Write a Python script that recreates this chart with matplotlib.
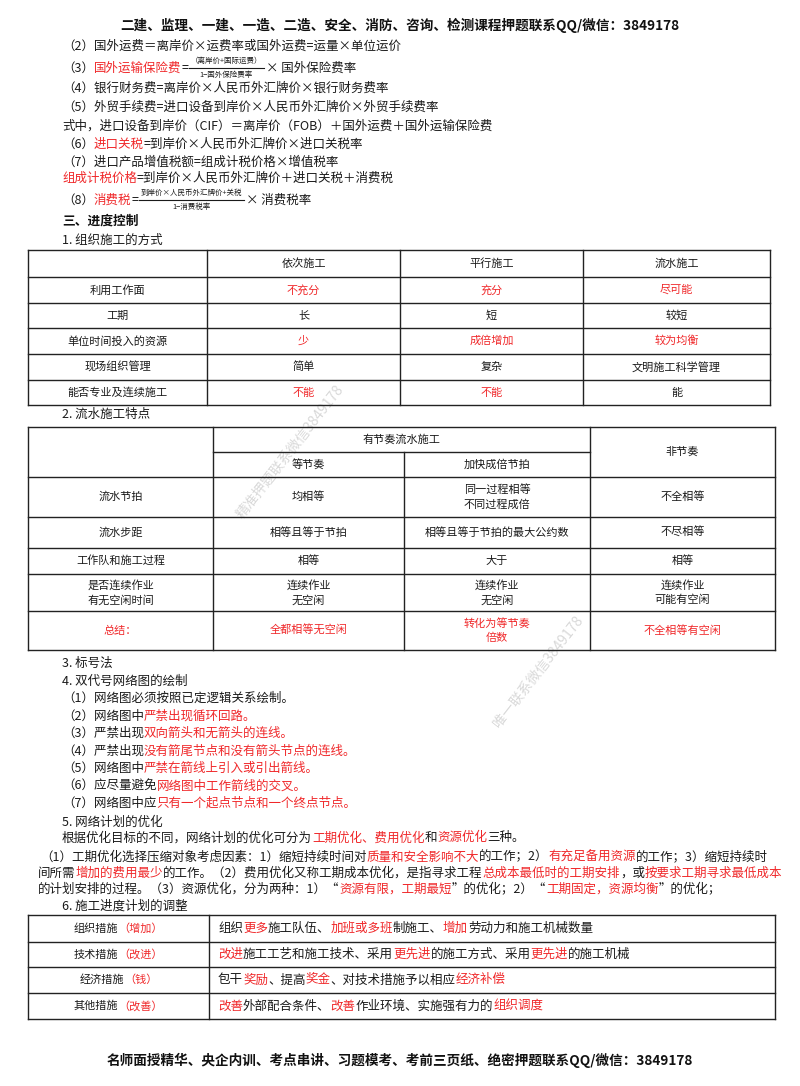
import matplotlib.pyplot as plt

plt.rcParams['font.family'] = ['Noto Sans CJK SC', 'DejaVu Sans']

RED = '#f0282a'
BLK = '#1a1a1a'

title_top = "二建、监理、一建、一造、二造、安全、消防、咨询、检测课程押题联系QQ/微信：3849178"
footer = "名师面授精华、央企内训、考点串讲、习题模考、考前三页纸、绝密押题联系QQ/微信：3849178"

# (x, y, [(text, red?)])
lines_top = [
    (62, 46, [("（2）国外运费＝离岸价×运费率或国外运费=运量×单位运价", 0)]),
    (62, 88, [("（4）银行财务费=离岸价×人民币外汇牌价×银行财务费率", 0)]),
    (62, 107, [("（5）外贸手续费=进口设备到岸价×人民币外汇牌价×外贸手续费率", 0)]),
    (62, 126, [("式中，进口设备到岸价（CIF）＝离岸价（FOB）＋国外运费＋国外运输保险费", 0)]),
    (62, 144, [("（6）", 0), ("进口关税", 1), ("=到岸价×人民币外汇牌价×进口关税率", 0)]),
    (62, 162, [("（7）进口产品增值税额=组成计税价格×增值税率", 0)]),
    (62, 178, [("组成计税价格", 1), ("=到岸价×人民币外汇牌价＋进口关税＋消费税", 0)]),
]
fractions = [
    (62, 68, "（3）", "国外运输保险费", "（离岸价+国际运费）", "1−国外保险费率", "× 国外保险费率"),
    (62, 200, "（8）", "消费税", "到岸价×人民币外汇牌价+关税", "1−消费税率", "× 消费税率"),
]

t1_cols = [28, 207, 400, 583, 770]
t1_rows = [250, 277, 303, 328, 354, 380, 405]
t1_head = ["", "依次施工", "平行施工", "流水施工"]
t1_body = [
    ["利用工作面", ("不充分", 1), ("充分", 1), ("尽可能", 1)],
    ["工期", ("长", 0), ("短", 0), ("较短", 0)],
    ["单位时间投入的资源", ("少", 1), ("成倍增加", 1), ("较为均衡", 1)],
    ["现场组织管理", ("简单", 0), ("复杂", 0), ("文明施工科学管理", 0)],
    ["能否专业及连续施工", ("不能", 1), ("不能", 1), ("能", 0)],
]

t2_cols = [28, 213, 404, 590, 775]
t2_rows = [427, 452, 477, 517, 548, 574, 611, 650]
t2_body = [
    ["流水节拍", "均相等", "同一过程相等\n不同过程成倍", "不全相等"],
    ["流水步距", "相等且等于节拍", "相等且等于节拍的最大公约数", "不尽相等"],
    ["工作队和施工过程", "相等", "大于", "相等"],
    ["是否连续作业\n有无空闲时间", "连续作业\n无空闲", "连续作业\n无空闲", "连续作业\n可能有空闲"],
    ["总结：", "全都相等无空闲", "转化为等节奏\n倍数", "不全相等有空闲"],
]

mid_lines = [
    (62, 663, [("3. 标号法", 0)]),
    (62, 681, [("4. 双代号网络图的绘制", 0)]),
    (62, 698, [("（1）网络图必须按照已定逻辑关系绘制。", 0)]),
    (62, 716, [("（2）网络图中", 0), ("严禁出现循环回路。", 1)]),
    (62, 733, [("（3）严禁出现", 0), ("双向箭头和无箭头的连线。", 1)]),
    (62, 751, [("（4）严禁出现", 0), ("没有箭尾节点和没有箭头节点的连线。", 1)]),
    (62, 768, [("（5）网络图中", 0), ("严禁在箭线上引入或引出箭线。", 1)]),
    (62, 786, [("（6）应尽量避免", 0), ("网络图中工作箭线的交叉。", 1)]),
    (62, 803, [("（7）网络图中应", 0), ("只有一个起点节点和一个终点节点。", 1)]),
    (62, 822, [("5. 网络计划的优化", 0)]),
    (62, 838, [("根据优化目标的不同，网络计划的优化可分为", 0), ("工期优化、费用优化", 1), ("和", 0), ("资源优化", 1), ("三种。", 0)]),
    (40, 857, [("（1）工期优化选择压缩对象考虑因素：1）缩短持续时间对", 0), ("质量和安全影响不大", 1), ("的工作；2）", 0), ("有充足备用资源", 1), ("的工作；3）缩短持续时", 0)]),
    (38, 873, [("间所需", 0), ("增加的费用最少", 1), ("的工作。（2）费用优化又称工期成本优化，是指寻求工程", 0), ("总成本最低时的工期安排", 1), ("，或", 0), ("按要求工期寻求最低成本", 1)]),
    (38, 889, [("的计划安排的过程。（3）资源优化，分为两种：1）“", 0), ("资源有限，工期最短", 1), ("”的优化；2）“", 0), ("工期固定，资源均衡", 1), ("”的优化；", 0)]),
    (62, 906, [("6. 施工进度计划的调整", 0)]),
]

t3_cols = [28, 209, 775]
t3_rows = [915, 942, 967, 993, 1019]
t3_left = [
    [("组织措施", 0), ("（增加）", 1)],
    [("技术措施", 0), ("（改进）", 1)],
    [("经济措施", 0), ("（钱）", 1)],
    [("其他措施", 0), ("（改善）", 1)],
]
t3_right = [
    [("组织", 0), ("更多", 1), ("施工队伍、", 0), ("加班或多班", 1), ("制施工、", 0), ("增加", 1), ("劳动力和施工机械数量", 0)],
    [("改进", 1), ("施工工艺和施工技术、采用", 0), ("更先进", 1), ("的施工方式、采用", 0), ("更先进", 1), ("的施工机械", 0)],
    [("包干", 0), ("奖励", 1), ("、提高", 0), ("奖金", 1), ("、对技术措施予以相应", 0), ("经济补偿", 1)],
    [("改善", 1), ("外部配合条件、", 0), ("改善", 1), ("作业环境、实施强有力的", 0), ("组织调度", 1)],
]

fig = plt.figure(figsize=(8, 10.86), dpi=100)
ax = fig.add_axes([0, 0, 1, 1])
ax.set_xlim(0, 800)
ax.set_ylim(1086, 0)
ax.axis('off')
renderer = fig.canvas.get_renderer()
FS = 9.0


def runs(x, y, parts, size=FS, ha='left'):
    # chain pieces: each one starts at the right edge of the previous one
    prev = None
    first = None
    for s, r in parts:
        c = RED if r else BLK
        if prev is None:
            prev = ax.text(x, y, s, fontsize=size, color=c, va='center', ha='left')
            first = prev
        else:
            prev = ax.annotate(s, xy=(1, 0.5), xycoords=prev, fontsize=size, color=c,
                               va='center', ha='left')
    if ha == 'center':
        x0 = first.get_window_extent(renderer).x0
        x1 = prev.get_window_extent(renderer).x1
        first.set_x(x - (x1 - x0) / 2)
    return prev


def grid(cols, rows, lw=1.0):
    for y in rows:
        ax.plot([cols[0], cols[-1]], [y, y], color='#222', lw=lw)
    for x in cols:
        ax.plot([x, x], [rows[0], rows[-1]], color='#222', lw=lw)


ax.text(400, 25, title_top, fontsize=9.8, fontweight='bold', ha='center', va='center', color='#111')
ax.text(400, 1060, footer, fontsize=9.8, fontweight='bold', ha='center', va='center', color='#111')

for x, y, parts in lines_top:
    runs(x, y, parts)
for x, y, pre, name, num, den, post in fractions:
    last = runs(x, y, [(pre, 0), (name, 1), ("=", 0)])
    xe = last.get_window_extent(renderer).x1
    tn = ax.text(0, 0, num, fontsize=5.4)
    td = ax.text(0, 0, den, fontsize=5.4)
    w = max(tn.get_window_extent(renderer).width, td.get_window_extent(renderer).width) + 4
    tn.remove()
    td.remove()
    ax.plot([xe, xe + w], [y, y], color=BLK, lw=0.8)
    ax.text(xe + w / 2, y - 7, num, fontsize=5.4, ha='center', va='center', color=BLK)
    ax.text(xe + w / 2, y + 7, den, fontsize=5.4, ha='center', va='center', color=BLK)
    runs(xe + w + 2, y, [(post, 0)])

ax.text(62, 221, "三、进度控制", fontsize=9.2, fontweight='bold', va='center', color='#111')
runs(62, 240, [("1. 组织施工的方式", 0)])

# table 1
grid(t1_cols, t1_rows)
cx1 = [(t1_cols[i] + t1_cols[i + 1]) / 2 for i in range(4)]
for i, h in enumerate(t1_head):
    ax.text(cx1[i], (t1_rows[0] + t1_rows[1]) / 2, h, fontsize=8, ha='center', va='center', color=BLK)
for r, row in enumerate(t1_body):
    yc = (t1_rows[r + 1] + t1_rows[r + 2]) / 2
    ax.text(cx1[0], yc, row[0], fontsize=8, ha='center', va='center', color=BLK)
    for c in range(1, 4):
        s, red = row[c]
        ax.text(cx1[c], yc, s, fontsize=8, ha='center', va='center', color=RED if red else BLK)

runs(62, 414, [("2. 流水施工特点", 0)])

# table 2
c2, r2 = t2_cols, t2_rows
k = dict(color='#222', lw=1.0)
for y in r2[2:]:
    ax.plot([c2[0], c2[-1]], [y, y], **k)
ax.plot([c2[0], c2[-1]], [r2[0], r2[0]], **k)
ax.plot([c2[1], c2[3]], [r2[1], r2[1]], **k)
for x in [c2[0], c2[1], c2[3], c2[4]]:
    ax.plot([x, x], [r2[0], r2[-1]], **k)
ax.plot([c2[2], c2[2]], [r2[1], r2[-1]], **k)
cx2 = [(c2[i] + c2[i + 1]) / 2 for i in range(4)]
ax.text((c2[1] + c2[3]) / 2, (r2[0] + r2[1]) / 2, "有节奏流水施工", fontsize=8, ha='center', va='center', color=BLK)
ax.text(cx2[1], (r2[1] + r2[2]) / 2, "等节奏", fontsize=8, ha='center', va='center', color=BLK)
ax.text(cx2[2], (r2[1] + r2[2]) / 2, "加快成倍节拍", fontsize=8, ha='center', va='center', color=BLK)
ax.text(cx2[3], (r2[0] + r2[2]) / 2, "非节奏", fontsize=8, ha='center', va='center', color=BLK)
for r, row in enumerate(t2_body):
    yc = (r2[r + 2] + r2[r + 3]) / 2
    col = RED if r == len(t2_body) - 1 else BLK
    for c in range(4):
        ax.text(cx2[c], yc, row[c], fontsize=8, ha='center', va='center', color=col, linespacing=1.5)

for x, y, parts in mid_lines:
    runs(x, y, parts)

# table 3
grid(t3_cols, t3_rows)
for r in range(4):
    yc = (t3_rows[r] + t3_rows[r + 1]) / 2
    runs((t3_cols[0] + t3_cols[1]) / 2, yc, t3_left[r], size=8, ha='center')
    runs(218, yc, t3_right[r], size=9)

# watermarks
ax.text(290, 452, "精准押题联系微信3849178", fontsize=10, rotation=52, color='#d9d9d9',
        ha='center', va='center', zorder=0)
ax.text(538, 672, "唯一联系微信3849178", fontsize=10, rotation=52, color='#d9d9d9',
        ha='center', va='center', zorder=0)

fig.savefig("out.png", dpi=100, facecolor='white')
